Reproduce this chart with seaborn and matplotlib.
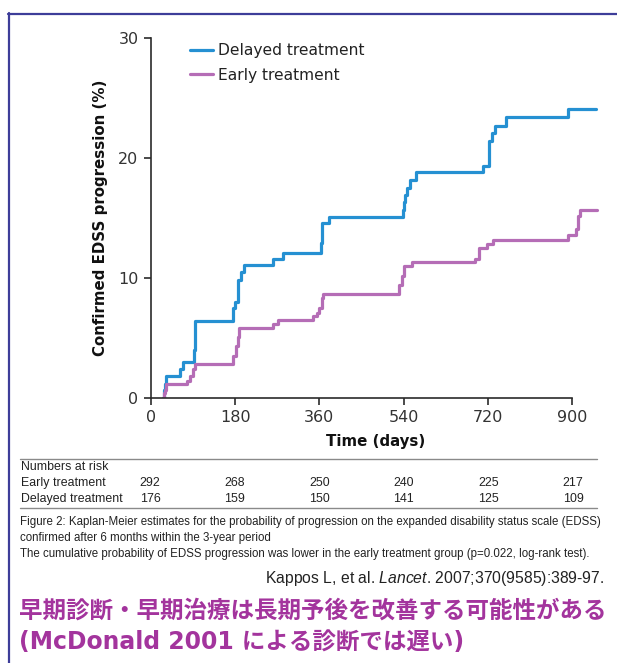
import matplotlib
matplotlib.use("Agg")
import matplotlib.pyplot as plt
from matplotlib.lines import Line2D
import pandas as pd
import seaborn as sns

# Kaplan-Meier step curves: event day and cumulative progression (%) after it
delayed_days = [26, 28, 30, 32, 62, 68, 92, 95, 175, 180, 185, 192, 199, 261, 283,
                363, 365, 381, 538, 540, 543, 547, 554, 566, 709, 723, 730, 735, 760, 892, 952]
delayed_pct = [0, 0.7, 1.2, 1.8, 2.4, 3.0, 4.0, 6.4, 7.5, 8.0, 9.8, 10.5, 11.1, 11.6, 12.1,
               12.9, 14.6, 15.1, 15.7, 16.3, 16.9, 17.5, 18.2, 18.8, 19.3, 21.4, 22.1, 22.7, 23.4, 24.1, 24.1]

early_days = [25, 27, 30, 33, 78, 83, 90, 95, 175, 182, 185, 188, 260, 272, 347, 354, 360,
              365, 368, 531, 536, 541, 559, 693, 701, 719, 732, 891, 909, 912, 917, 953]
early_pct = [0, 0.4, 0.7, 1.2, 1.4, 1.8, 2.4, 2.8, 3.5, 4.3, 5.1, 5.8, 6.2, 6.5, 6.8, 7.1, 7.5,
             8.3, 8.7, 9.4, 10.2, 11.0, 11.3, 11.6, 12.5, 12.8, 13.2, 13.6, 14.1, 15.2, 15.7, 15.7]

groups = ["Delayed treatment", "Early treatment"]
x_ticks = [0, 180, 360, 540, 720, 900]
y_ticks = [0, 10, 20, 30]

risk_rows = ["Early treatment", "Delayed treatment"]
risk_early = [292, 268, 250, 240, 225, 217]
risk_delayed = [176, 159, 150, 141, 125, 109]

df = pd.concat([
    pd.DataFrame({"day": delayed_days, "pct": delayed_pct, "group": groups[0]}),
    pd.DataFrame({"day": early_days, "pct": early_pct, "group": groups[1]}),
], ignore_index=True)

sns.set_theme(style="ticks")
plt.rcParams["font.family"] = ["DejaVu Sans"]
plt.rcParams["mathtext.fontset"] = "custom"
plt.rcParams["mathtext.rm"] = "Liberation Sans"
plt.rcParams["mathtext.it"] = "Liberation Sans:italic"

W, H = 617, 663
fig = plt.figure(figsize=(W / 100, H / 100), dpi=100)
renderer = fig.canvas.get_renderer()


def fx(px):
    return px / W


def fy(py):
    return 1 - py / H


def fit_width(txt, target_px):
    """Rescale a text's font size so that it spans target_px pixels."""
    w = txt.get_window_extent(renderer).width
    txt.set_fontsize(txt.get_fontsize() * target_px / w)
    return txt.get_fontsize()


ax = fig.add_axes([fx(151), fy(398), fx(600) - fx(151), fy(38) - fy(398)])

palette = {"Delayed treatment": "#2590d2", "Early treatment": "#b56db6"}
sns.lineplot(data=df, x="day", y="pct", hue="group", hue_order=groups,
             palette=palette, estimator=None, drawstyle="steps-post",
             linewidth=2.3, ax=ax)

ax.set_xlim(0, 960)
ax.set_ylim(0, 30)
ax.set_xticks(x_ticks)
ax.set_yticks(y_ticks)
ax.spines["left"].set_bounds(0, 30)
ax.spines["bottom"].set_bounds(0, 900)
sns.despine(ax=ax)
for s in ("left", "bottom"):
    ax.spines[s].set_color("#2b2b2b")
    ax.spines[s].set_linewidth(1.2)
ax.tick_params(axis="both", direction="out", length=5, width=1.2, color="#2b2b2b",
               labelsize=11.5, labelcolor="#333333", pad=4)
ax.set_xlabel("Time (days)", fontsize=10.8, fontweight="bold", color="#111111", labelpad=6)
ax.set_ylabel("Confirmed EDSS progression (%)", fontsize=10.8, fontweight="bold",
              color="#111111", labelpad=7)

leg = ax.legend(loc="upper left", bbox_to_anchor=(fx(176), fy(29)),
                bbox_transform=fig.transFigure, frameon=False, fontsize=11.2,
                handlelength=1.45, handletextpad=0.35, labelspacing=0.62)
for t in leg.get_texts():
    t.set_color("#222222")

# Numbers at risk table
sans = ["Liberation Sans", "DejaVu Sans"]
tab_fs = 8.9
fig.add_artist(Line2D([fx(20), fx(597)], [fy(459), fy(459)], color="#8a8a8a", lw=1.0))
fig.add_artist(Line2D([fx(20), fx(597)], [fy(508), fy(508)], color="#8a8a8a", lw=1.0))
fig.text(fx(21), fy(467), "Numbers at risk", fontsize=tab_fs, family=sans,
         color="#222222", va="center")
for row, vals, ypx in [(risk_rows[0], risk_early, 483), (risk_rows[1], risk_delayed, 499)]:
    fig.text(fx(21), fy(ypx), row, fontsize=tab_fs, family=sans, color="#222222", va="center")
    for i, v in enumerate(vals):
        xp = 150 + i * (573 - 150) / 5
        fig.text(fx(xp), fy(ypx), str(v), fontsize=tab_fs, family=sans,
                 color="#222222", va="center", ha="center")

# Caption
caption = [
    "Figure 2: Kaplan-Meier estimates for the probability of progression on the expanded disability status scale (EDSS)",
    "confirmed after 6 months within the 3-year period",
    "The cumulative probability of EDSS progression was lower in the early treatment group (p=0.022, log-rank test).",
]
cap_texts = [fig.text(fx(20), fy(ypx), line, fontsize=8, family=sans, color="#222222",
                      va="center") for line, ypx in zip(caption, [522, 538, 554])]
cap_fs = fit_width(cap_texts[0], 586)
for t in cap_texts[1:]:
    t.set_fontsize(cap_fs)

# Citation
cite = fig.text(fx(604), fy(578), "Kappos L, et al. $\\it{Lancet}$. 2007;370(9585):389-97.",
                fontsize=10.5, family=sans, color="#222222", va="center", ha="right")
fit_width(cite, 342)

# Japanese headline
jp = ["Noto Sans CJK JP", "DejaVu Sans"]
head1 = fig.text(fx(19), fy(611), "早期診断・早期治療は長期予後を改善する可能性がある",
                 fontsize=17, family=jp, fontweight="bold", color="#a3349d", va="center")
jp_fs = fit_width(head1, 588)
fig.text(fx(19), fy(642), "(McDonald 2001 による診断では遅い)",
         fontsize=jp_fs, family=["DejaVu Sans", "Noto Sans CJK JP"], fontweight="bold",
         color="#a3349d", va="center")

# Panel frame on the top and left edges
frame = "#3d3d99"
fig.add_artist(Line2D([fx(8), 1.0], [fy(13.5), fy(13.5)], color=frame, lw=1.6))
fig.add_artist(Line2D([fx(8.5), fx(8.5)], [0.0, fy(13)], color=frame, lw=1.6))

fig.savefig("out.png", dpi=100)
